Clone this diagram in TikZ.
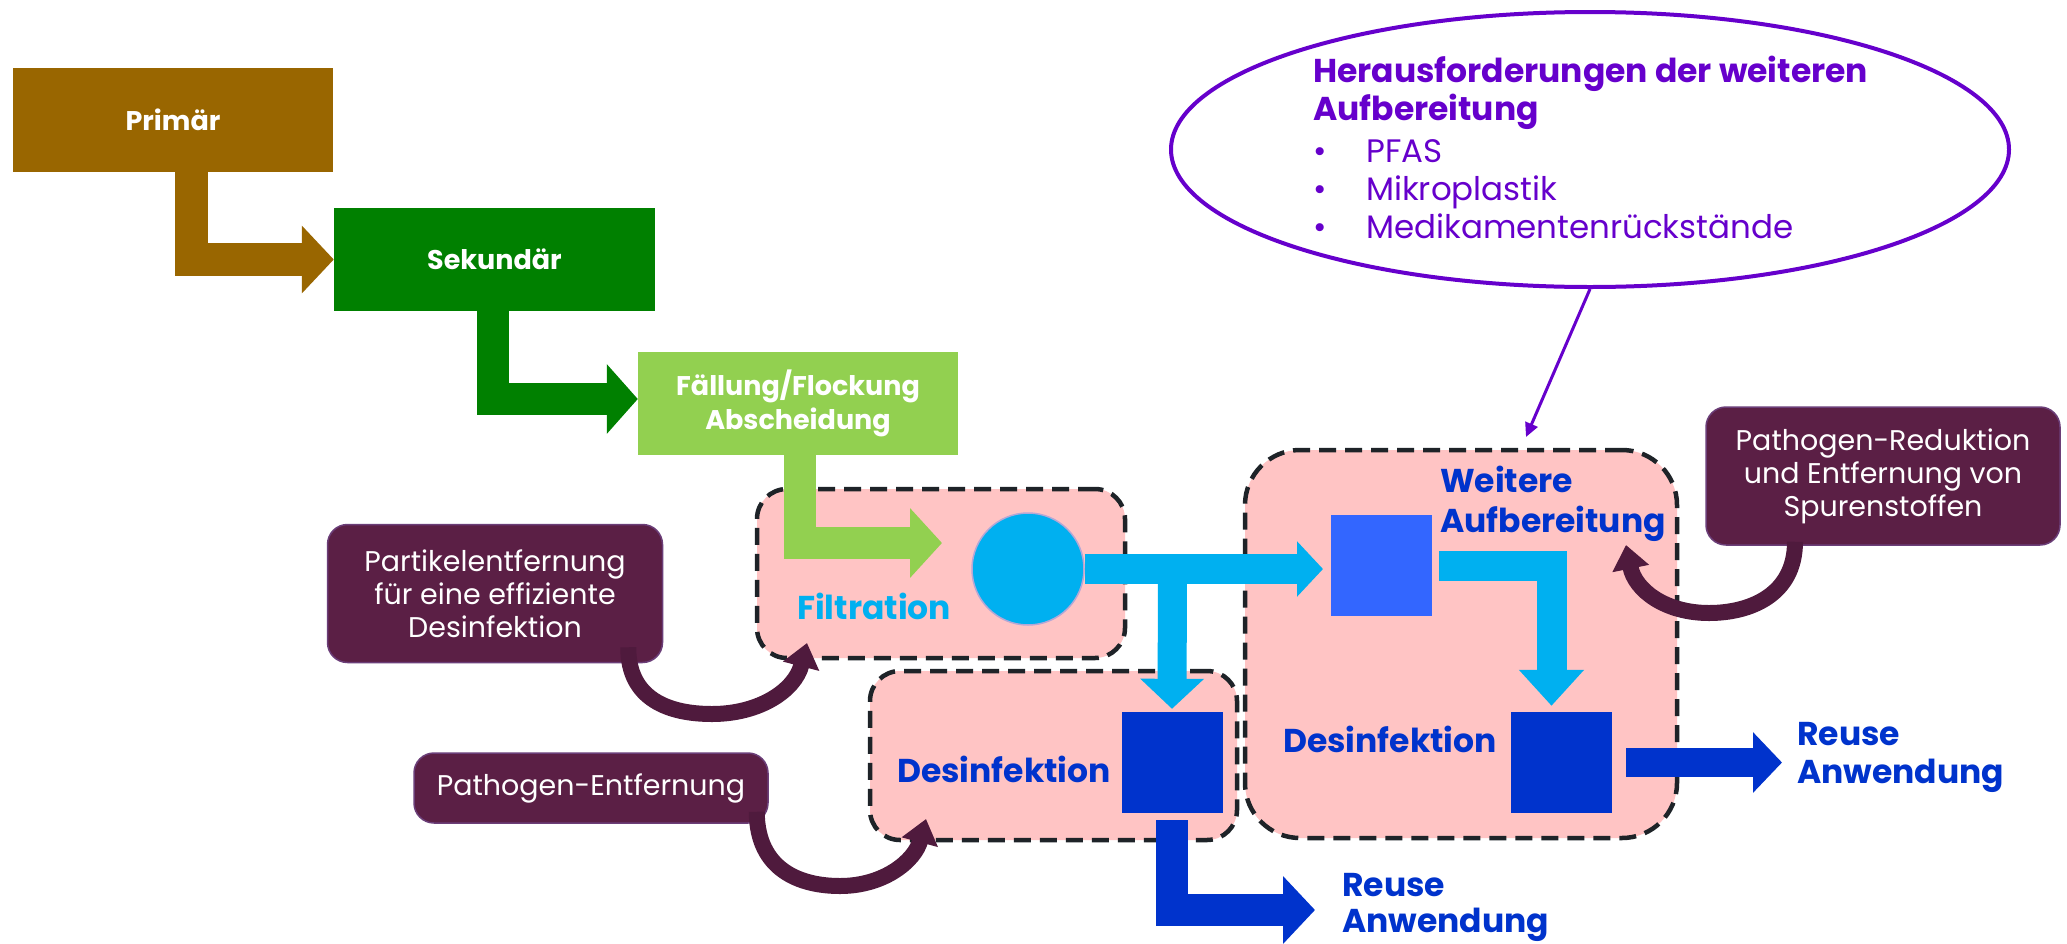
\documentclass[tikz,border=0pt]{standalone}
\usepackage{fontspec}
\setmainfont{Poppins}
\newfontfamily\popf{Poppins}
\usetikzlibrary{arrows.meta,calc,shapes.geometric}
\definecolor{cbrown}{HTML}{996600}
\definecolor{cgreen}{HTML}{008000}
\definecolor{clgreen}{HTML}{92D050}
\definecolor{ccyan}{HTML}{00B0F0}
\definecolor{cpink}{HTML}{FFC4C4}
\definecolor{cwsq}{HTML}{3366FF}
\definecolor{cdblue}{HTML}{0033CC}
\definecolor{cplum}{HTML}{5B1F45}
\definecolor{cplumline}{HTML}{6B3E78}
\definecolor{carrowplum}{HTML}{4F1A3D}
\definecolor{cdash}{HTML}{1E2328}
\definecolor{cpurple}{HTML}{6600CC}
\definecolor{clav}{HTML}{B4A7D6}
\tikzset{
  stagebox/.style={inner sep=0pt, text=white, font=\popf\bfseries\fontsize{27}{34}\selectfont, align=center},
  dbox/.style={draw=cdash, fill=cpink, line width=4.5pt, dash pattern=on 17pt off 9pt, rounded corners=#1, inner sep=0pt},
  sq/.style={inner sep=0pt, minimum width=101pt, minimum height=101pt},
  infobox/.style={fill=cplum, draw=cplumline, line width=1.5pt, rounded corners=20pt, text=white, align=center, inner sep=0pt, font=\popf\fontsize{28.5}{33}\selectfont},
  bluelbl/.style={text=cdblue, font=\popf\bfseries\fontsize{33}{38}\selectfont, inner sep=0pt},
  ellbold/.style={text=cpurple, font=\popf\bfseries\fontsize{33}{38}\selectfont, inner sep=0pt, anchor=base west},
  ellreg/.style={text=cpurple, font=\popf\fontsize{32.5}{38}\selectfont, inner sep=0pt, anchor=base west},
  blockarrow/.style={line width=#1, line join=miter},
  curvearrow/.style={draw=carrowplum, line width=16pt, -{Triangle[length=24pt,width=36pt]}},
}
\begin{document}
\begin{tikzpicture}[x=1pt,y=-1pt]
\useasboundingbox (0,0) rectangle (2067,943);
\fill[white] (0,0) rectangle (2067,943);

% stage boxes
\node[stagebox, fill=cbrown, minimum width=320pt, minimum height=104pt] (prim) at (173,120) {Primär};
\node[stagebox, fill=cgreen, minimum width=321pt, minimum height=103pt] (sek) at (494.5,259.5) {Sekundär};
\node[stagebox, fill=clgreen, minimum width=320pt, minimum height=103pt] (fal) at (798,403.5) {Fällung/Flockung\\Abscheidung};

% dashed process boxes
\node[dbox=30pt, minimum width=368pt, minimum height=169pt] (filt) at (941,573.5) {};
\node[dbox=30pt, minimum width=367pt, minimum height=169pt] (desbox) at (1053.5,755.5) {};
\node[dbox=55pt, minimum width=432pt, minimum height=388pt] (big) at (1461,644) {};

% process elements
\node[circle, fill=ccyan, draw=clav, line width=1.5pt, minimum size=112pt, inner sep=0pt] (circ) at (1028,569) {};
\node[sq, fill=cwsq] (wsq) at (1381.5,565.5) {};
\node[sq, fill=cdblue] (dsq1) at (1172,762.5) {};
\node[sq, fill=cdblue] (dsq2) at (1561.5,762.5) {};

% labels
\node[text=ccyan, font=\popf\bfseries\fontsize{33}{38}\selectfont, inner sep=0pt, anchor=base west] (filtlbl) at (797,619) {Filtration};
\node[bluelbl, anchor=base west] (deslbl1) at (897,782) {Desinfektion};
\node[bluelbl, anchor=base west] (deslbl2) at (1283,752) {Desinfektion};
\node[bluelbl, anchor=base west] (weit1) at (1440,492) {Weitere};
\node[bluelbl, anchor=base west] (weit2) at (1440,532) {Aufbereitung};
\node[bluelbl, anchor=base west] (reuse1a) at (1797,745) {Reuse};
\node[bluelbl, anchor=base west] (reuse1b) at (1797,783) {Anwendung};
\node[bluelbl, anchor=base west] (reuse2a) at (1342,896) {Reuse};
\node[bluelbl, anchor=base west] (reuse2b) at (1342,932) {Anwendung};

% stage arrows
\draw[cbrown, blockarrow=33pt, -{Triangle[length=32pt,width=66pt]}] ([xshift=18.5pt]prim.south) |- (sek.west);
\draw[cgreen, blockarrow=32pt, -{Triangle[length=31pt,width=68pt]}] ([xshift=-1.5pt]sek.south) |- ([yshift=4.5pt]fal.west);
\coordinate (ftip) at (942,543);
\draw[clgreen, blockarrow=32pt, -{Triangle[length=32pt,width=68pt]}] ([xshift=1.5pt]fal.south) |- (ftip);

% cyan arrows
\coordinate (ctip) at (1323,569);
\draw[ccyan, blockarrow=30pt, -{Triangle[length=26pt,width=54pt]}] (circ.east) -- (ctip);
\coordinate (tj) at (1172.5,569);
\draw[ccyan, blockarrow=29pt, -{Triangle[length=30pt,width=62pt]}] (tj) -- ([yshift=3pt]dsq1.north);
\draw[ccyan, blockarrow=30pt, -{Triangle[length=36pt,width=63pt]}] ([xshift=7pt]wsq.east) -| ([xshift=-10pt,yshift=6pt]dsq2.north);

% blue output arrows
\coordinate (btip1) at (1315,910);
\draw[cdblue, blockarrow=32pt, -{Triangle[length=32pt,width=66pt]}] ([yshift=-7pt]dsq1.south) |- (btip1);
\coordinate (btip2) at (1782,762.5);
\draw[cdblue, blockarrow=29pt, -{Triangle[length=29pt,width=59pt]}] ([xshift=14pt]dsq2.east) -- (btip2);

% ellipse callout
\node[ellipse, draw=cpurple, fill=white, line width=4pt, minimum width=838pt, minimum height=275pt, inner sep=0pt] (ell) at (1590,149.5) {};
\node[ellbold] (e1) at (1313,82) {Herausforderungen der weiteren};
\node[ellbold] (e2) at (1313,120) {Aufbereitung};
\node[ellreg] (b1) at (1313,162) {•};
\node[ellreg] (i1) at (1366,162) {PFAS};
\node[ellreg] (b2) at (1313,200) {•};
\node[ellreg] (i2) at (1366,200) {Mikroplastik};
\node[ellreg] (b3) at (1313,238) {•};
\node[ellreg] (i3) at (1366,238) {Medikamentenrückstände};
\coordinate (ptip) at (1526,437);
\draw[cpurple, line width=3pt, -{Triangle[length=14pt,width=13pt]}] (ell.south) -- (ptip);

% info boxes
\node[infobox, minimum width=335pt, minimum height=138pt] (pb1) at (495,593.5) {Partikelentfernung\\für eine effiziente\\Desinfektion};
\node[infobox, minimum width=354pt, minimum height=70pt] (pb2) at (591,788) {Pathogen-Entfernung};
\node[infobox, minimum width=354pt, minimum height=138pt] (pb3) at (1883,476) {Pathogen-Reduktion\\und Entfernung von\\Spurenstoffen};

% curved arrows
\draw[curvearrow] ([xshift=-35pt,yshift=16pt]pb1.south east) .. controls (628,700) and (670,714) .. (712,714) .. controls (760,714) and (795,690) .. (807,643);
\draw[curvearrow] ([xshift=-12pt,yshift=12pt]pb2.south east) .. controls (757,870) and (800,886) .. (840,886) .. controls (885,886) and (915,860) .. (926,819);
\draw[curvearrow] ([xshift=-88pt,yshift=4pt]pb3.south) .. controls (1795,595) and (1750,613) .. (1709,613) .. controls (1665,613) and (1635,590) .. (1626,545);
\end{tikzpicture}
\end{document}
